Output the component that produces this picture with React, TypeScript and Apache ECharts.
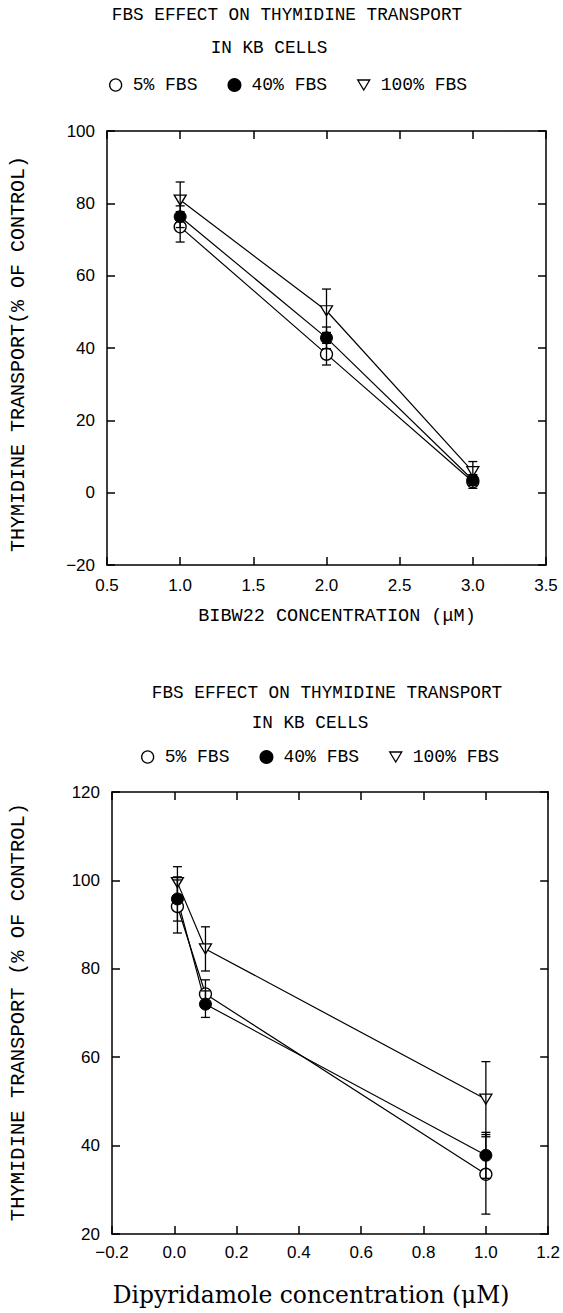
import React, { useEffect, useRef } from "react";
import * as echarts from "echarts";

// ---------- data ----------
const seriesNames = ["5% FBS", "40% FBS", "100% FBS"];

// Top panel: BIBW22 concentration (µM)
const topX = [1, 2, 3];
const top5 = [73.5, 38.3, 3.0];
const top5Err = [4.2, 3.0, 1.8];
const top40 = [76.3, 42.8, 3.5];
const top40Err = [3.0, 3.0, 1.5];
const top100 = [80.9, 50.3, 5.8];
const top100Err = [5.0, 6.0, 2.8];

// Bottom panel: Dipyridamole concentration (µM)
const botX = [0.01, 0.1, 1.0];
const bot5 = [94.1, 74.3, 33.5];
const bot5Err = [6.0, 3.2, 9.0];
const bot40 = [95.8, 72.0, 37.8];
const bot40Err = [5.0, 3.0, 5.2];
const bot100 = [99.5, 84.5, 50.5];
const bot100Err = [3.6, 5.0, 8.5];

// axis ranges / tick steps
const topXRange = [0.5, 3.5, 0.5];
const topYRange = [-20, 100, 20];
const botXRange = [-0.2, 1.2, 0.2];
const botYRange = [20, 120, 20];

const TRI_DOWN = "path://M0,0L12,0L6,10Z";
const MONO = "'Liberation Mono', 'DejaVu Sans Mono', monospace";
const SERIF = "'DejaVu Serif', 'Liberation Serif', serif";
const SANS = "'Liberation Sans', Arial, sans-serif";

const fmtNum = (digits: number) => (v: number) => {
  if (Math.abs(v) < 1e-9) v = 0;
  const s = digits > 0 ? v.toFixed(digits) : String(Math.round(v));
  return v < 0 ? "\u2212" + s.slice(1) : s;
};

function errRender(params: any, api: any) {
  const x = api.value(0);
  const lo = api.value(1);
  const hi = api.value(2);
  const a = api.coord([x, lo]);
  const b = api.coord([x, hi]);
  const hw = 4.5;
  const st = { stroke: "#000", lineWidth: 1.3 };
  return {
    type: "group",
    children: [
      { type: "line", shape: { x1: a[0], y1: a[1], x2: b[0], y2: b[1] }, style: st },
      { type: "line", shape: { x1: b[0] - hw, y1: b[1], x2: b[0] + hw, y2: b[1] }, style: st },
      { type: "line", shape: { x1: a[0] - hw, y1: a[1], x2: a[0] + hw, y2: a[1] }, style: st },
    ],
  };
}

const markerStyles = [
  { symbol: "circle", itemStyle: { color: "#fff", borderColor: "#000", borderWidth: 1.3 }, symbolSize: 12 },
  { symbol: "circle", itemStyle: { color: "#000", borderColor: "#000", borderWidth: 1 }, symbolSize: 12 },
  { symbol: TRI_DOWN, itemStyle: { color: "#fff", borderColor: "#000", borderWidth: 1.3 }, symbolSize: [12, 10] },
];

function buildPanel(
  xs: number[],
  ys: number[][],
  errs: number[][],
  xAxisIndex: number,
  yAxisIndex: number
) {
  const out: any[] = [];
  ys.forEach((vals, i) => {
    out.push({
      name: seriesNames[i],
      type: "line",
      xAxisIndex,
      yAxisIndex,
      data: xs.map((x, j) => [x, vals[j]]),
      lineStyle: { color: "#000", width: 1.2 },
      ...markerStyles[i],
      z: 3,
    });
  });
  ys.forEach((vals, i) => {
    out.push({
      name: seriesNames[i],
      type: "custom",
      xAxisIndex,
      yAxisIndex,
      renderItem: errRender,
      encode: { x: 0, y: [1, 2] },
      data: xs.map((x, j) => [x, vals[j] - errs[i][j], vals[j] + errs[i][j]]),
      z: 4,
      silent: true,
    });
  });
  return out;
}

const axisLine = { show: true, onZero: false, lineStyle: { color: "#000", width: 1.5 } };
const axisTick = { show: true, inside: true, length: 8, lineStyle: { color: "#000", width: 1.5 } };

function valueAxis(range: number[], gridIndex: number, position: string, showLabel: boolean, digits: number, extra: any = {}) {
  return {
    type: "value",
    gridIndex,
    position,
    min: range[0],
    max: range[1],
    interval: range[2],
    axisLine,
    axisTick,
    splitLine: { show: false },
    axisLabel: {
      show: showLabel,
      color: "#000",
      fontFamily: SANS,
      fontSize: 17,
      formatter: fmtNum(digits),
      showMaxLabel: true,
      showMinLabel: true,
      ...extra,
    },
  };
}

function txt(text: string, x: number, y: number, size: number, family = MONO, rotation = 0) {
  return {
    type: "text",
    x,
    y,
    rotation,
    style: {
      text,
      fontFamily: family,
      fontSize: size,
      fill: "#000",
      align: "center",
      verticalAlign: "middle",
    },
  };
}

const legendCommon = {
  orient: "horizontal",
  itemWidth: 12,
  itemHeight: 12,
  itemGap: 30,
  textStyle: { fontFamily: MONO, fontSize: 18, color: "#000", padding: [0, 0, 0, 6] },
  selectedMode: false,
};

export default function App() {
  const ref = useRef<HTMLDivElement>(null);
  useEffect(() => {
    if (!ref.current) return;
    const chart = echarts.init(ref.current, null, { renderer: "svg" });
    const legendData = [
      { name: seriesNames[0], icon: "circle", itemStyle: { color: "#fff", borderColor: "#000", borderWidth: 1.3 } },
      { name: seriesNames[1], icon: "circle", itemStyle: { color: "#000", borderColor: "#000" } },
      { name: seriesNames[2], icon: TRI_DOWN, itemStyle: { color: "#fff", borderColor: "#000", borderWidth: 1.3 } },
    ];
    chart.setOption({
      animation: false,
      backgroundColor: "#fff",
      grid: [
        { left: 107, top: 131, width: 439, height: 434 },
        { left: 112, top: 792, width: 448, height: 442 },
      ],
      legend: [
        { ...legendCommon, left: 104, top: 71, data: legendData },
        { ...legendCommon, left: 136, top: 743, data: legendData },
      ],
      xAxis: [
        valueAxis(topXRange, 0, "bottom", true, 1, { margin: 12 }),
        valueAxis(topXRange, 0, "top", false, 1),
        valueAxis(botXRange, 1, "bottom", true, 1, { margin: 10 }),
        valueAxis(botXRange, 1, "top", false, 1),
      ],
      yAxis: [
        valueAxis(topYRange, 0, "left", true, 0, { margin: 12 }),
        valueAxis(topYRange, 0, "right", false, 0),
        valueAxis(botYRange, 1, "left", true, 0, { margin: 12 }),
        valueAxis(botYRange, 1, "right", false, 0),
      ],
      series: [
        ...buildPanel(topX, [top5, top40, top100], [top5Err, top40Err, top100Err], 0, 0),
        ...buildPanel(botX, [bot5, bot40, bot100], [bot5Err, bot40Err, bot100Err], 2, 2),
      ],
      graphic: [
        txt("FBS EFFECT ON THYMIDINE TRANSPORT", 287, 15, 17.7),
        txt("IN KB CELLS", 269, 48, 17.7),
        txt("BIBW22 CONCENTRATION (\u03bcM)", 337, 616, 18.5),
        txt("THYMIDINE TRANSPORT(% OF CONTROL)", 18, 354, 20, MONO, Math.PI / 2),
        txt("FBS EFFECT ON THYMIDINE TRANSPORT", 327, 693, 17.7),
        txt("IN KB CELLS", 310, 723, 17.7),
        txt("Dipyridamole concentration (\u03bcM)", 311, 1295, 23.4, SERIF),
        txt("THYMIDINE TRANSPORT (% OF CONTROL)", 18, 1012, 20.5, MONO, Math.PI / 2),
      ],
    });
    return () => chart.dispose();
  }, []);
  return (
    <div
      ref={ref}
      style={{ position: "absolute", left: 0, top: 0, width: 563, height: 1313, background: "#fff" }}
    />
  );
}
